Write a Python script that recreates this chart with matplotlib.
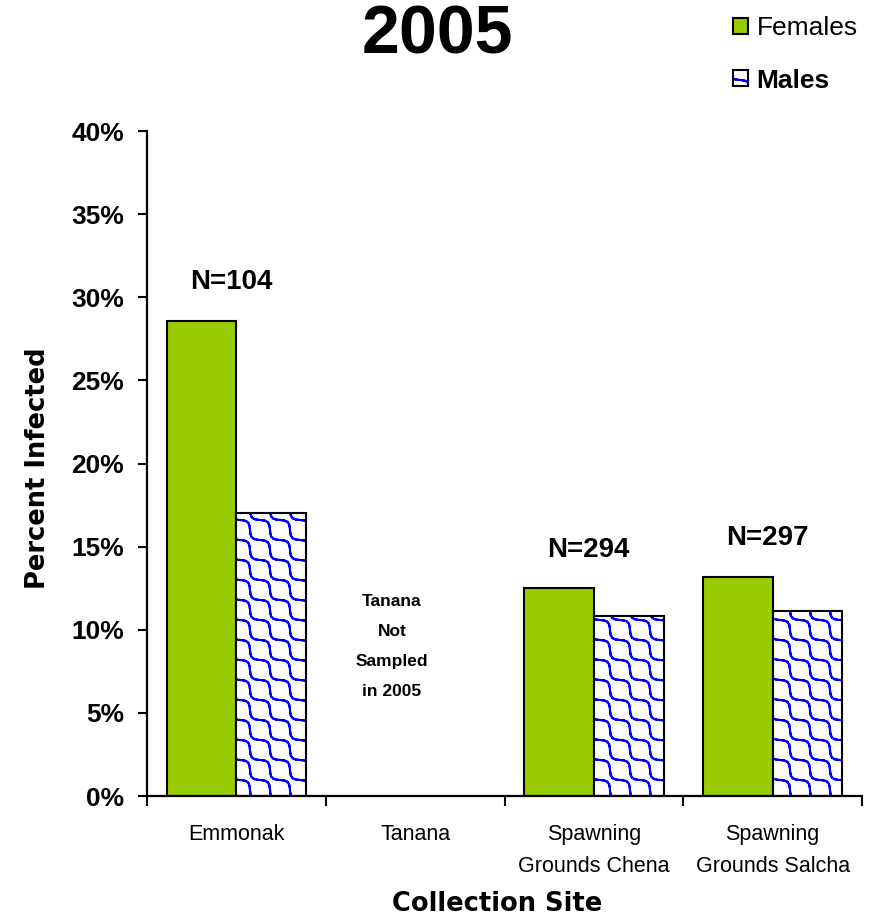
import numpy as np
import matplotlib
matplotlib.use('Agg')
import matplotlib.pyplot as plt
import matplotlib.hatch as mhatch
from matplotlib.colors import to_rgba
from matplotlib.ticker import FuncFormatter, FixedLocator
from matplotlib.path import Path

# ---------------- data ----------------
sites = ['Emmonak', 'Tanana', 'Spawning\nGrounds Chena', 'Spawning\nGrounds Salcha']
females = [28.6, np.nan, 12.5, 13.2]
males = [17.0, np.nan, 10.8, 11.1]
sample_sizes = ['N=104', '', 'N=294', 'N=297']
series_names = ['Females', 'Males']
y_ticks = [0, 5, 10, 15, 20, 25, 30, 35, 40]
note_text = 'Tanana\nNot\nSampled\nin 2005'
title_text = '2005'
x_title = 'Collection Site'
y_title = 'Percent Infected'


# ---------------- custom wavy hatch (replaces '*') ----------------
class WavyHatch(mhatch.HatchPatternBase):
    per_line = 61

    def __init__(self, hatch, density):
        self.num_lines = hatch.count('*') * 5
        if self.num_lines:
            self.ks = np.arange(-1, 2 * self.num_lines + 2)
            self.num_vertices = len(self.ks) * (2 * self.per_line - 1)
        else:
            self.ks = np.array([])
            self.num_vertices = 0

    def set_vertices_and_codes(self, vertices, codes):
        n = self.num_lines
        xs = np.linspace(-0.15, 1.15, self.per_line)
        amp = 0.28 / (n * np.sqrt(2))
        wig = amp * np.sin(2 * np.pi * n * xs) / np.sqrt(2)
        m = 2 * self.per_line - 1
        for i, k in enumerate(self.ks):
            c = k / n
            px = xs + wig
            py = c - xs + wig
            # go forward and back along the same curve so the fill pass is empty
            px2 = np.concatenate([px, px[-2::-1]])
            py2 = np.concatenate([py, py[-2::-1]])
            sl = slice(i * m, (i + 1) * m)
            vertices[sl, 0] = px2
            vertices[sl, 1] = py2
            codes[sl] = Path.LINETO
            codes[i * m] = Path.MOVETO


mhatch._hatch_types = [t for t in mhatch._hatch_types if t is not mhatch.Stars] + [WavyHatch]

plt.rcParams['hatch.linewidth'] = 1.5

BOLD = ['Liberation Sans', 'DejaVu Sans']

fig = plt.figure(figsize=(8.84, 9.21), dpi=100)
ax = fig.add_axes([147 / 884, 1 - 796 / 921, (862 - 147) / 884, (796 - 131) / 921])

x = np.arange(len(sites))
w = 0.39
female_color = '#99CC00'
hatch_color = to_rgba('#0000FF')

bf = ax.bar(x - w / 2, females, w, color=female_color, edgecolor='black', linewidth=1.5, zorder=2)
bm = ax.bar(x + w / 2, males, w, color='white', edgecolor='black', hatch='*', linewidth=1.5, zorder=2)
for p in bm:
    p._hatch_color = hatch_color

ax.set_xlim(-0.5, len(sites) - 0.5)
ax.set_ylim(0, 40)

for s in ['top', 'right']:
    ax.spines[s].set_visible(False)
for s in ['left', 'bottom']:
    ax.spines[s].set_linewidth(1.6)

ax.yaxis.set_major_locator(FixedLocator(y_ticks))
ax.yaxis.set_major_formatter(FuncFormatter(lambda v, p: f'{v:.0f}%'))
ax.tick_params(axis='y', length=6.5, width=1.5, pad=10)
for lab in ax.get_yticklabels():
    lab.set_fontfamily(BOLD)
    lab.set_fontweight('bold')
    lab.set_fontsize(19)

ax.set_xticks(x)
ax.set_xticklabels(sites, fontfamily=BOLD, fontsize=15.5, linespacing=1.7)
ax.xaxis.set_minor_locator(FixedLocator(np.arange(-0.5, len(sites), 1.0)))
ax.tick_params(axis='x', which='major', length=0, pad=20)
ax.tick_params(axis='x', which='minor', length=7, width=1.5, direction='out')

# sample size labels
for i, lbl in enumerate(sample_sizes):
    if lbl:
        top = np.nanmax([females[i], males[i]])
        ax.text(i - 0.03, top + 2.3, lbl, ha='center', va='center',
                fontfamily=BOLD, fontweight='bold', fontsize=20)

# Tanana note
ax.text(0.87, 9.0, note_text, ha='center', va='center', fontfamily=BOLD,
        fontweight='bold', fontsize=12.5, linespacing=2.25)

# titles
fig.text(437 / 884, 1 - 35 / 921, title_text, ha='center', va='center',
         fontfamily=BOLD, fontweight='bold', fontsize=49)
fig.text(38 / 884, 1 - 468 / 921, y_title, rotation=90, ha='center', va='center',
         fontfamily='DejaVu Sans', fontweight='bold', fontsize=18.5)
fig.text(497 / 884, 1 - 904 / 921, x_title, ha='center', va='center',
         fontfamily='DejaVu Sans', fontweight='bold', fontsize=18.5)

# legend
leg = fig.legend([bf[0], bm[0]], series_names,
                 loc='upper left', bbox_to_anchor=(733 / 884, 1 - 16 / 921),
                 frameon=False, borderpad=0, borderaxespad=0,
                 handlelength=0.55, handleheight=0.55, handletextpad=0.35,
                 labelspacing=1.08, prop={'family': BOLD, 'size': 19})
leg.get_texts()[1].set_fontweight('bold')
for hp in leg.get_patches():
    if hp.get_hatch():
        hp._hatch_color = hatch_color

fig.savefig('out.png', dpi=100)
